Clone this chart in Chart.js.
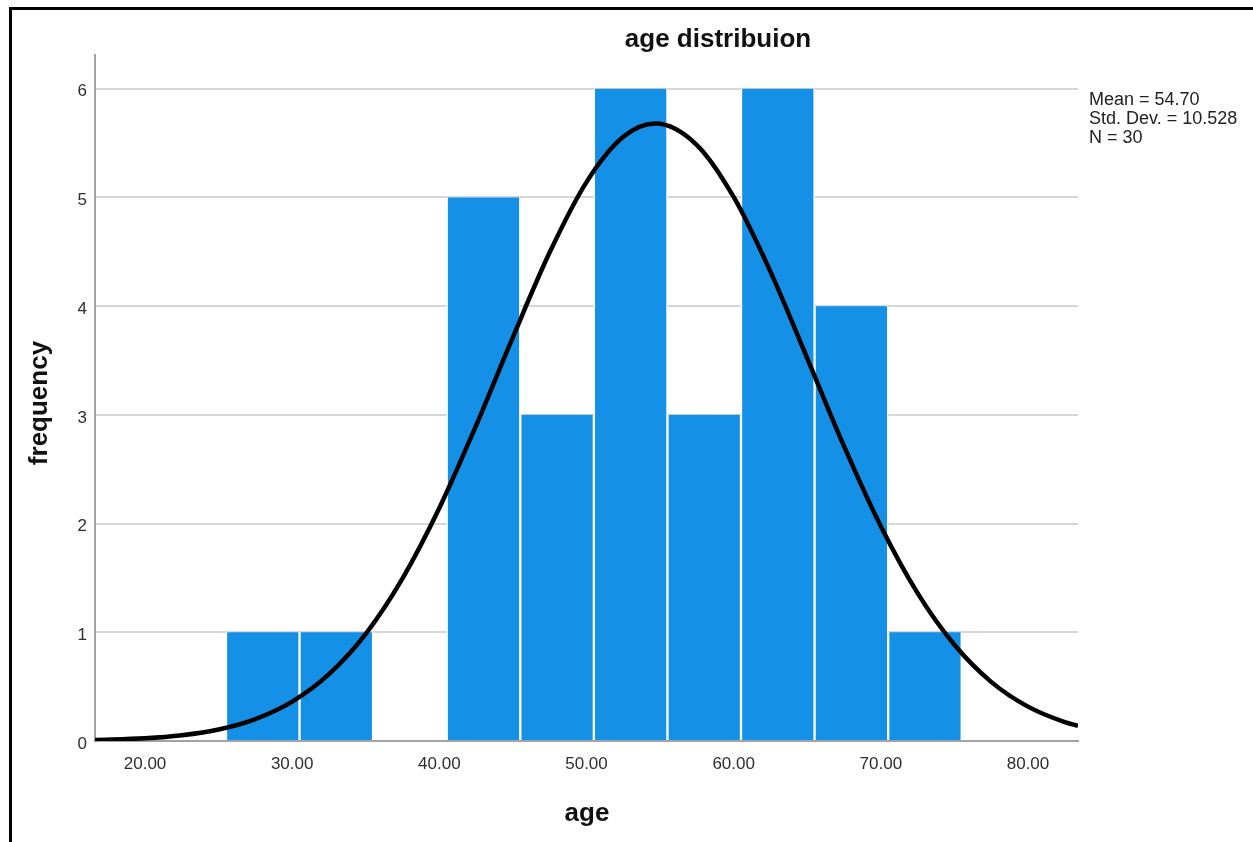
<!DOCTYPE html>
<html>
<head>
<meta charset="utf-8">
<script src="https://cdn.jsdelivr.net/npm/chart.js@4"></script>
<style>
  html, body { margin: 0; padding: 0; background: #ffffff; }
  canvas { display: block; }
</style>
</head>
<body>
<canvas id="c" width="1253" height="842"></canvas>
<script>
// ---- data ----
const chartTitle = "age distribuion";
const xAxisTitle = "age";
const yAxisTitle = "frequency";
const binCenters = [28, 33, 38, 43, 48, 53, 58, 63, 68, 73];
const frequencies = [1, 1, 0, 5, 3, 6, 3, 6, 4, 1];
const curveAges = [16.6, 20, 22.5, 25, 27.5, 30, 32.5, 35, 37.5, 40, 42.5, 45, 47.5, 50, 52.5, 54.7, 57.5, 60, 62.5, 65, 67.5, 70, 72.5, 75, 77.5, 80, 82.5, 83.4];
const curveFreq = [0.01, 0.025, 0.053, 0.106, 0.202, 0.362, 0.615, 0.986, 1.496, 2.143, 2.902, 3.715, 4.495, 5.141, 5.557, 5.68, 5.482, 5.004, 4.317, 3.520, 2.712, 1.975, 1.360, 0.885, 0.544, 0.316, 0.174, 0.14];
const xTickValues = [20, 30, 40, 50, 60, 70, 80];
const yTickValues = [0, 1, 2, 3, 4, 5, 6];
const statsLines = ["Mean = 54.70", "Std. Dev. = 10.528", "N = 30"];

const FONT = "'Liberation Sans', Arial, sans-serif";

const decorPlugin = {
  id: 'decor',
  beforeDraw(chart) {
    const ctx = chart.ctx;
    ctx.save();
    ctx.fillStyle = '#ffffff';
    ctx.fillRect(0, 0, chart.width, chart.height);
    ctx.restore();
  },
  afterDraw(chart) {
    const ctx = chart.ctx;
    ctx.save();
    // frame lines (left and top)
    ctx.strokeStyle = '#000000';
    ctx.lineWidth = 3;
    ctx.beginPath();
    ctx.moveTo(10.5, chart.height);
    ctx.lineTo(10.5, 8.5);
    ctx.lineTo(chart.width, 8.5);
    ctx.stroke();

    ctx.fillStyle = '#111111';
    ctx.textAlign = 'center';
    ctx.textBaseline = 'alphabetic';
    ctx.font = "bold 26px " + FONT;
    ctx.fillText(chartTitle, 718, 47);
    ctx.fillText(xAxisTitle, 587, 821);

    ctx.save();
    ctx.translate(40, 403);
    ctx.rotate(-Math.PI / 2);
    ctx.textBaseline = 'middle';
    ctx.fillText(yAxisTitle, 0, 0);
    ctx.restore();

    ctx.fillStyle = '#222222';
    ctx.textAlign = 'left';
    ctx.font = "18px " + FONT;
    const baselines = [105, 124, 142.5];
    statsLines.forEach((t, i) => ctx.fillText(t, 1089, baselines[i]));
    ctx.restore();
  }
};

new Chart(document.getElementById('c'), {
  type: 'bar',
  data: {
    datasets: [
      {
        type: 'line',
        data: curveAges.map((x, i) => ({ x: x, y: curveFreq[i] })),
        borderColor: '#000000',
        borderWidth: 4.5,
        pointRadius: 0,
        fill: false,
        cubicInterpolationMode: 'monotone',
        order: 0
      },
      {
        type: 'bar',
        data: binCenters.map((x, i) => ({ x: x, y: frequencies[i] })),
        backgroundColor: 'rgb(20,145,230)',
        borderColor: '#ffffff',
        borderWidth: { left: 1.5, right: 1.5, top: 0, bottom: 0 },
        borderSkipped: false,
        barPercentage: 1,
        categoryPercentage: 1,
        order: 1
      }
    ]
  },
  options: {
    responsive: false,
    animation: false,
    devicePixelRatio: 1,
    layout: { padding: { left: 0, top: 55, right: 175, bottom: 0 } },
    plugins: {
      legend: { display: false },
      tooltip: { enabled: false },
      title: { display: false }
    },
    scales: {
      x: {
        type: 'linear',
        min: 16.6,
        max: 83.4,
        offset: false,
        grid: { display: false, drawTicks: false, offset: false },
        border: { display: true, color: '#a3a3a3', width: 2 },
        ticks: {
          padding: 13,
          color: '#2e2e2e',
          font: { family: FONT, size: 17 },
          maxRotation: 0,
          callback: (v) => Number(v).toFixed(2)
        },
        afterBuildTicks: (scale) => { scale.ticks = xTickValues.map(v => ({ value: v })); },
        afterFit: (scale) => { scale.height = 101; }
      },
      y: {
        type: 'linear',
        min: 0,
        max: 6.31,
        grid: { display: true, drawTicks: false, color: '#d6d6d6', lineWidth: 2 },
        border: { display: true, color: '#a3a3a3', width: 2 },
        ticks: {
          padding: 8,
          labelOffset: 3,
          color: '#2e2e2e',
          font: { family: FONT, size: 17 },
          callback: (v) => String(v)
        },
        afterBuildTicks: (scale) => { scale.ticks = yTickValues.map(v => ({ value: v })); },
        afterFit: (scale) => { scale.width = 95; }
      }
    }
  },
  plugins: [decorPlugin]
});
</script>
</body>
</html>
